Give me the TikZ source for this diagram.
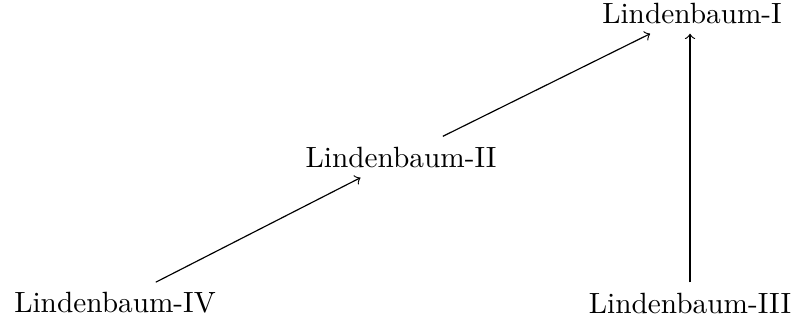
\documentclass[tikz,border=0pt]{standalone}
\begin{document}
\begin{tikzpicture}[x=0.3413pt,y=-0.3413pt,
  lbl/.style={inner sep=0.3333em},
  conn/.style={->}]
\useasboundingbox (0,0) rectangle (791,326);
\node[lbl] (I) at (692,13) {Lindenbaum-I};
\node[lbl] (II) at (401,157) {Lindenbaum-II};
\node[lbl] (III) at (690,303) {Lindenbaum-III};
\node[lbl] (IV) at (115,303) {Lindenbaum-IV};
\draw[conn] (IV) -- (II);
\draw[conn] (II) -- (I);
\draw[conn] (III) -- (III |- I.south);
\end{tikzpicture}
\end{document}
